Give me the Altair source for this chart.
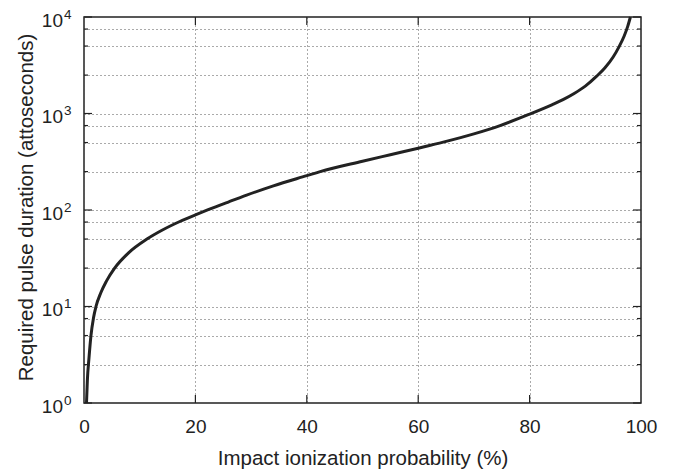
import altair as alt
import pandas as pd

# ---- data ----
prob = [0.45, 0.6, 0.9, 1.25, 1.7, 2.15, 3.0, 4.0, 5.5, 8.0, 11.3, 14.0, 17.2, 20.0,
        22.3, 26.0, 29.2, 34.0, 40.0, 42.4, 50.0, 55.0, 60.0, 64.5, 70.0, 74.7, 80.0,
        84.0, 86.0, 88.0, 90.0, 92.0, 93.5, 95.0, 96.0, 97.0, 97.6, 98.1]
dur = [1.0, 1.7, 2.95, 5.0, 7.6, 10.0, 13.8, 18.2, 25.0, 36.0, 50.0, 61.7, 76.0, 89.0,
       100.7, 121.6, 142.6, 178.0, 227.0, 250.0, 320.0, 374.0, 437.0, 505.0, 615.0, 750.0, 985.0,
       1230.0, 1390.0, 1610.0, 1920.0, 2420.0, 2960.0, 3850.0, 4850.0, 6400.0, 7950.0, 10000.0]

x_tick_values = [0, 20, 40, 60, 80, 100]
x_inner_ticks = [20, 40, 60, 80]
decades = [1, 10, 100, 1000, 10000]
decade_base = ["10", "10", "10", "10", "10"]
decade_exp = ["0", "1", "2", "3", "4"]
minor_values = [2.5, 5, 7.5, 25, 50, 75, 250, 500, 750, 2500, 5000, 7500]

x_title = "Impact ionization probability (%)"
y_title = "Required pulse duration (attoseconds)"

W, H = 557, 386
INK = "#222222"

curve_df = pd.DataFrame({"p": prob, "v": dur})
dec_df = pd.DataFrame({"v": decades, "base": decade_base, "exp": decade_exp})
minor_df = pd.DataFrame({"v": minor_values})
xt_df = pd.DataFrame({"p": x_inner_ticks})

xscale = alt.Scale(domain=[0, 100], nice=False, zero=False)
yscale = alt.Scale(type="log", domain=[1, 10000], nice=False)

grid_y = sorted(minor_values + [10, 100, 1000])

x_axis = alt.Axis(
    values=x_tick_values, grid=True, ticks=False, domain=False,
    labelPadding=14, labelFontSize=19, labelFlush=False, labelOverlap=False,
    format="d", title=x_title, titleX=W / 2, titleY=61,
    titleBaseline="alphabetic", titleAlign="center",
    titleFontSize=20.5, titleFontWeight="normal")
y_axis = alt.Axis(
    values=grid_y, grid=True, labels=False, ticks=False, domain=False,
    title=y_title, titleX=-52, titleY=190, titleAngle=-90,
    titleBaseline="alphabetic", titleAlign="center",
    titleFontSize=20.5, titleFontWeight="normal")

X = alt.X("p:Q", scale=xscale, axis=x_axis)
Y = alt.Y("v:Q", scale=yscale, axis=y_axis)

line = alt.Chart(curve_df).mark_line(
    color=INK, strokeWidth=3, interpolate="monotone"
).encode(x=X, y=Y)

maj_left = alt.Chart(dec_df).mark_rule(color=INK, strokeWidth=1.2).encode(
    y=Y, x=alt.value(0), x2=alt.value(8))
maj_right = alt.Chart(dec_df).mark_rule(color=INK, strokeWidth=1.2).encode(
    y=Y, x=alt.value(W - 8), x2=alt.value(W))
min_left = alt.Chart(minor_df).mark_rule(color=INK, strokeWidth=1.2).encode(
    y=Y, x=alt.value(0), x2=alt.value(4))
min_right = alt.Chart(minor_df).mark_rule(color=INK, strokeWidth=1.2).encode(
    y=Y, x=alt.value(W - 4), x2=alt.value(W))
x_bottom = alt.Chart(xt_df).mark_rule(color=INK, strokeWidth=1.2).encode(
    x=X, y=alt.value(H - 8), y2=alt.value(H))
x_top = alt.Chart(xt_df).mark_rule(color=INK, strokeWidth=1.2).encode(
    x=X, y=alt.value(0), y2=alt.value(8))

base_txt = alt.Chart(dec_df).mark_text(
    align="right", baseline="alphabetic", dy=9.5, fontSize=19, color=INK
).encode(x=alt.value(-21), y=Y, text="base:N")
exp_txt = alt.Chart(dec_df).mark_text(
    align="left", baseline="alphabetic", dy=1.5, fontSize=13.5, color=INK
).encode(x=alt.value(-20), y=Y, text="exp:N")

chart = alt.layer(
    line, maj_left, maj_right, min_left, min_right, x_bottom, x_top, base_txt, exp_txt
).properties(
    width=W, height=H,
    autosize=alt.AutoSizeParams(type="none"),
    padding={"left": 76, "top": 9, "right": 35, "bottom": 67},
).configure(
    font="Liberation Sans",
).configure_view(
    stroke=INK, strokeWidth=1.5
).configure_axis(
    labelColor=INK, titleColor=INK, gridColor="#555555", gridDash=[1, 3],
    gridWidth=1, gridOpacity=1, labelFont="Liberation Sans", titleFont="Liberation Sans"
)

chart.save("out.html", embed_options={"renderer": "svg", "actions": False})
